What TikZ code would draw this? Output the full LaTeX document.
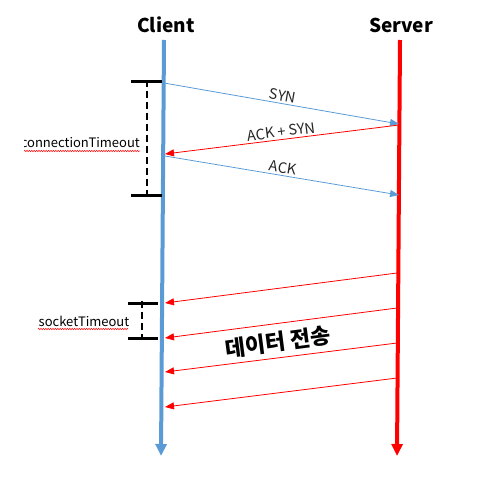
\documentclass[tikz,border=0pt]{standalone}
\usepackage{fontspec}
\setmainfont{Noto Sans CJK KR}
\usetikzlibrary{arrows.meta,decorations.pathmorphing}
\definecolor{cblue}{RGB}{91,155,213}
\definecolor{sred}{RGB}{255,0,0}
\begin{document}
\begin{tikzpicture}[x=1pt,y=-1pt,
  life/.style={line width=4pt,-{Triangle[width=11pt,length=12pt]}},
  msg/.style={line width=0.8pt,-{Triangle[width=7pt,length=9pt]}},
  lbl/.style={font=\fontsize{13}{15}\selectfont, inner sep=1pt},
  mlbl/.style={font=\fontsize{14.5}{16}\selectfont, inner sep=2pt, text=black!85},
  head/.style={font=\fontsize{19}{22}\selectfont\bfseries},
  bar/.style={line width=3pt},
  dashv/.style={line width=1.6pt,dash pattern=on 7pt off 4pt},
  squig/.style={sred,line width=0.5pt,decorate,decoration={zigzag,amplitude=0.7pt,segment length=2.4pt}}
]
\useasboundingbox (0,0) rectangle (487,489);
% headers
\node[head] (client) at (166,25) {Client};
\node[head] (server) at (401,25) {Server};
% lifelines
\coordinate (ctop) at (164,40);
\coordinate (cbot) at (161,456);
\coordinate (stop) at (400,40);
\coordinate (sbot) at (397,456);
\draw[life,cblue] (ctop) -- (cbot);
\draw[life,sred] (stop) -- (sbot);
% handshake
\coordinate (c1) at (164,83);
\coordinate (s1) at (399,124);
\coordinate (s2) at (399,125);
\coordinate (c2) at (165,154);
\coordinate (c3) at (165,156);
\coordinate (s3) at (399,195);
\draw[msg,cblue] (c1) -- node[mlbl,sloped,above] (syn) {SYN} (s1);
\draw[msg,sred] (s2) -- node[mlbl,sloped,above] (acksyn) {ACK + SYN} (c2);
\draw[msg,cblue] (c3) -- node[mlbl,sloped,above] (ack) {ACK} (s3);
% data
\coordinate (d1s) at (397,273); \coordinate (d1c) at (165,303);
\coordinate (d2s) at (397,308); \coordinate (d2c) at (165,338);
\coordinate (d3s) at (397,343); \coordinate (d3c) at (165,372);
\coordinate (d4s) at (397,378); \coordinate (d4c) at (165,407);
\draw[msg,sred] (d1s) -- (d1c);
\draw[msg,sred] (d2s) -- (d2c);
\draw[msg,sred] (d3s) -- (d3c);
\draw[msg,sred] (d4s) -- (d4c);
\node[font=\fontsize{22}{26}\selectfont\bfseries,rotate=7.4,inner sep=0pt] (data) at (278,342) {데이터 전송};
% connectionTimeout bracket
\coordinate (ct1a) at (131,82); \coordinate (ct1b) at (162,82);
\coordinate (ct2a) at (131,195); \coordinate (ct2b) at (162,195);
\coordinate (ctd1) at (147,82); \coordinate (ctd2) at (147,195);
\draw[bar] (ct1a) -- (ct1b);
\draw[bar] (ct2a) -- (ct2b);
\draw[dashv] ([yshift=2pt]ctd1) -- ([yshift=-2pt]ctd2);
\begin{scope}
\clip (24,120) rectangle (146,165);
\node[lbl,anchor=east,inner sep=0pt] (ctlabel) at (140,143) {connectionTimeout};
\draw[squig] (24,151) -- (140,151);
\end{scope}
% socketTimeout bracket
\coordinate (st1a) at (128,303); \coordinate (st1b) at (158,303);
\coordinate (st2a) at (128,338); \coordinate (st2b) at (158,338);
\coordinate (std1) at (142,303); \coordinate (std2) at (142,338);
\draw[bar] (st1a) -- (st1b);
\draw[bar] (st2a) -- (st2b);
\draw[dashv] ([yshift=2pt]std1) -- ([yshift=-2pt]std2);
\node[lbl,inner sep=0pt] (stlabel) at (84,321) {socketTimeout};
\draw[squig] (38,329) -- (128,329);
\end{tikzpicture}
\end{document}
